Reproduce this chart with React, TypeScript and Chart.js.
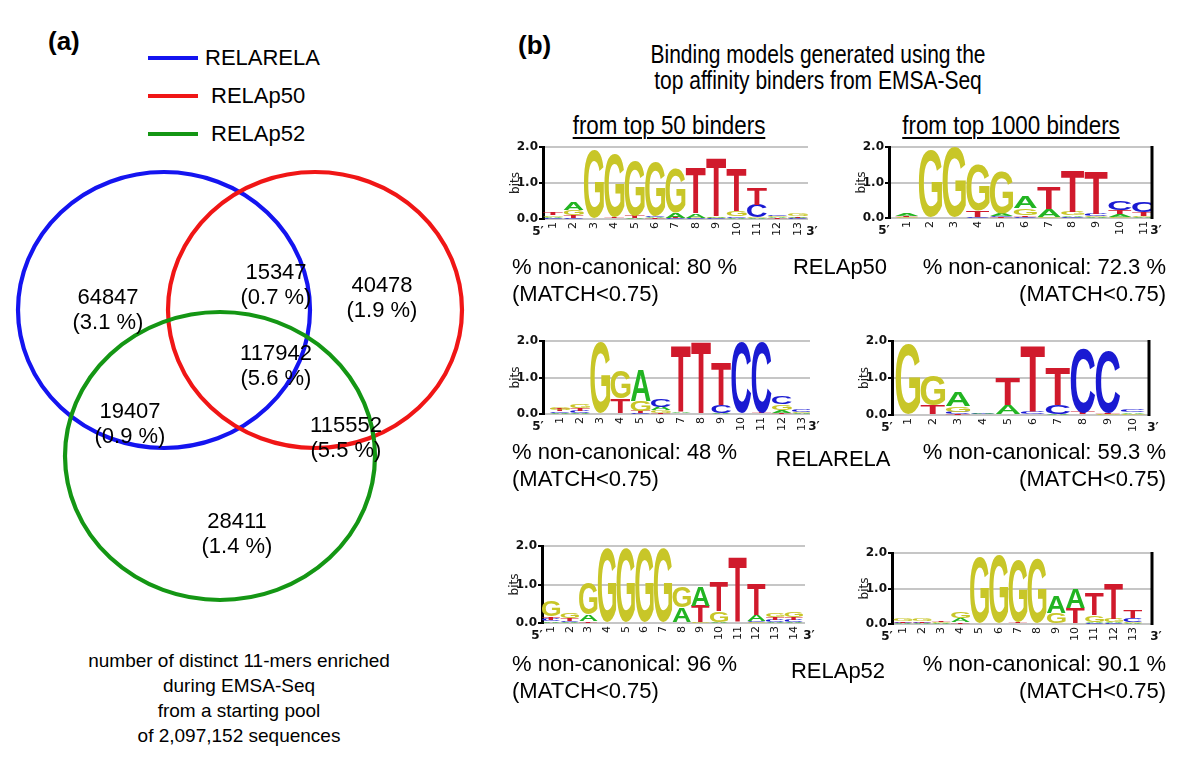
import React, { useEffect, useRef } from "react";
import { Chart, registerables } from "chart.js";

Chart.register(...registerables);

// ================= (a) Venn data =================
const vennSetNames = ["RELARELA", "RELAp50", "RELAp52"];
const vennRegionCounts = [64847, 15347, 40478, 117942, 19407, 115552, 28411];
const vennRegionPercents = ["3.1", "0.7", "1.9", "5.6", "0.9", "5.5", "1.4"];
const vennCaption = [
  "number of distinct 11-mers enriched",
  "during EMSA-Seq",
  "from a starting pool",
  "of 2,097,152 sequences",
];

// ================= (b) sequence logo data (bits per letter, per position) =================
const p50Top50A = [0.03, 0.2, 0.01, 0.01, 0.02, 0.03, 0.15, 0.12, 0.05, 0.03, 0.02, 0.03, 0.03];
const p50Top50C = [0.02, 0.03, 0.01, 0.01, 0.01, 0.04, 0.02, 0.02, 0.02, 0.04, 0.35, 0.05, 0.02];
const p50Top50G = [0.05, 0.15, 1.9, 1.75, 1.52, 1.5, 1.25, 0.02, 0.02, 0.15, 0.03, 0.03, 0.06];
const p50Top50T = [0.08, 0.07, 0.01, 0.05, 0.07, 0.02, 0.02, 1.25, 1.62, 1.2, 0.45, 0.02, 0.02];

const p50Top1000A = [0.06, 0.01, 0.01, 0.01, 0.08, 0.33, 0.22, 0.05, 0.02, 0.08, 0.02];
const p50Top1000C = [0.01, 0.01, 0.01, 0.02, 0.03, 0.03, 0.01, 0.02, 0.06, 0.25, 0.3];
const p50Top1000G = [0.02, 1.9, 1.95, 1.3, 1.2, 0.2, 0.03, 0.1, 0.04, 0.02, 0.05];
const p50Top1000T = [0.02, 0.01, 0.01, 0.18, 0.02, 0.05, 0.6, 1.15, 1.2, 0.12, 0.1];

const relaTop50A = [0.03, 0.03, 0.01, 0.01, 0.85, 0.1, 0.04, 0.01, 0.02, 0.01, 0.01, 0.08, 0.02];
const relaTop50C = [0.04, 0.06, 0.01, 0.01, 0.02, 0.2, 0.01, 0.01, 0.22, 1.95, 1.93, 0.2, 0.06];
const relaTop50G = [0.08, 0.1, 1.95, 0.76, 0.28, 0.08, 0.01, 0.01, 0.01, 0.01, 0.01, 0.15, 0.03];
const relaTop50T = [0.05, 0.08, 0.01, 0.4, 0.05, 0.02, 1.8, 1.95, 1.18, 0.01, 0.02, 0.04, 0.01];

const relaTop1000A = [0.01, 0.01, 0.38, 0.03, 0.25, 0.01, 0.02, 0.01, 0.01, 0.04];
const relaTop1000C = [0.01, 0.01, 0.06, 0.02, 0.01, 0.05, 0.25, 1.74, 1.68, 0.08];
const relaTop1000G = [1.87, 0.83, 0.15, 0.01, 0.01, 0.01, 0.01, 0.01, 0.02, 0.03];
const relaTop1000T = [0.01, 0.25, 0.03, 0.01, 0.75, 1.78, 1.0, 0.05, 0.03, 0.01];

const p52Top50A = [0.04, 0.02, 0.17, 0.01, 0.01, 0.01, 0.01, 0.38, 0.5, 0.02, 0.01, 0.15, 0.03, 0.03];
const p52Top50C = [0.05, 0.03, 0.01, 0.01, 0.01, 0.01, 0.01, 0.01, 0.01, 0.01, 0.01, 0.03, 0.05, 0.05];
const p52Top50G = [0.4, 0.12, 0.82, 1.92, 1.92, 1.92, 1.92, 0.55, 0.02, 0.28, 0.01, 0.02, 0.1, 0.12];
const p52Top50T = [0.08, 0.07, 0.04, 0.01, 0.01, 0.01, 0.01, 0.01, 0.42, 0.78, 1.7, 0.82, 0.07, 0.08];

const p52Top1000A = [0.02, 0.02, 0.02, 0.12, 0.01, 0.01, 0.01, 0.01, 0.48, 0.55, 0.03, 0.03, 0.02];
const p52Top1000C = [0.02, 0.02, 0.01, 0.01, 0.01, 0.01, 0.01, 0.01, 0.01, 0.01, 0.02, 0.02, 0.1];
const p52Top1000G = [0.06, 0.07, 0.03, 0.18, 1.85, 1.93, 1.75, 1.8, 0.3, 0.01, 0.2, 0.1, 0.04];
const p52Top1000T = [0.03, 0.04, 0.03, 0.04, 0.01, 0.01, 0.05, 0.01, 0.01, 0.42, 0.6, 1.0, 0.2];

const logoFactors = ["RELAp50", "RELARELA", "RELAp52"];
const nonCanonicalTop50 = ["80", "48", "96"];
const nonCanonicalTop1000 = ["72.3", "59.3", "90.1"];
const yTickValues = [0, 1, 2];

// ================= layout / styles (not data) =================
const SANS = "'Liberation Sans', Arial, Helvetica, sans-serif";
const AXIS_FONT = "'DejaVu Sans', 'Liberation Sans', sans-serif";
const GLYPH_FONT = "bold 100px 'Liberation Sans', Arial, sans-serif";
const LETTERS = ["A", "C", "G", "T"];
const LETTER_COLORS: Record<string, string> = {
  A: "#22b422",
  C: "#1a1ad2",
  G: "#c8c628",
  T: "#d01a2c",
};
const vennColors = ["#1414f0", "#f01616", "#149614"];
const vennShapes = [
  { cx: 164, cy: 310, rx: 146, ry: 138 },
  { cx: 315, cy: 310, rx: 147, ry: 138 },
  { cx: 220, cy: 456, rx: 155, ry: 144 },
];
const vennLabelPos = [
  [108, 297],
  [276, 272],
  [382, 285],
  [276, 353],
  [130, 411],
  [346, 425],
  [237, 521],
];
const VENN_BOX = { left: 0, top: 150, width: 480, height: 470 };

const logoPanels = [
  { A: p50Top50A, C: p50Top50C, G: p50Top50G, T: p50Top50T, l: 543, r: 808, t: 147, b: 219, min: 0.5, max: 13.5, rightBorder: false },
  { A: p50Top1000A, C: p50Top1000C, G: p50Top1000G, T: p50Top1000T, l: 889, r: 1152, t: 147, b: 218, min: 0.25, max: 11.35, rightBorder: true },
  { A: relaTop50A, C: relaTop50C, G: relaTop50G, T: relaTop50T, l: 543, r: 810, t: 341, b: 414, min: 0.16, max: 13.4, rightBorder: false },
  { A: relaTop1000A, C: relaTop1000C, G: relaTop1000G, T: relaTop1000T, l: 892, r: 1149, t: 341, b: 415, min: 0.36, max: 10.64, rightBorder: true },
  { A: p52Top50A, C: p52Top50C, G: p52Top50G, T: p52Top50T, l: 542, r: 805, t: 546, b: 623, min: 0.52, max: 14.6, rightBorder: false },
  { A: p52Top1000A, C: p52Top1000C, G: p52Top1000G, T: p52Top1000T, l: 892, r: 1152, t: 553, b: 624, min: 0.43, max: 14.0, rightBorder: true },
];
const textRowsY = [
  { y1: 267, y2: 294, nameY: 267, nameX: 840 },
  { y1: 452, y2: 479, nameY: 459, nameX: 833 },
  { y1: 664, y2: 691, nameY: 671, nameX: 838 },
];

const Y_AXIS_W = 48;
const PAD_TOP = 14;
const PAD_RIGHT = 18;
const X_AXIS_H = 42;

// ================= plugins =================
const vennPlugin = {
  id: "vennEllipses",
  afterDatasetsDraw(chart: any) {
    const { ctx } = chart;
    const xs = chart.scales.x;
    const ys = chart.scales.y;
    chart.data.datasets.forEach((ds: any) => {
      const p = ds.data[0];
      const cx = xs.getPixelForValue(p.x);
      const cy = ys.getPixelForValue(p.y);
      const rx = Math.abs(xs.getPixelForValue(p.x + ds.radiusX) - cx);
      const ry = Math.abs(ys.getPixelForValue(p.y + ds.radiusY) - cy);
      ctx.save();
      ctx.beginPath();
      ctx.ellipse(cx, cy, rx, ry, 0, 0, Math.PI * 2);
      ctx.lineWidth = 4.2;
      ctx.strokeStyle = ds.borderColor;
      ctx.stroke();
      ctx.restore();
    });
  },
};

const glyphCache: Record<string, any> = {};
function glyphBox(ctx: CanvasRenderingContext2D, L: string) {
  if (!glyphCache[L]) {
    ctx.save();
    ctx.font = GLYPH_FONT;
    ctx.textAlign = "left";
    ctx.textBaseline = "alphabetic";
    const m = ctx.measureText(L);
    glyphCache[L] = {
      l: m.actualBoundingBoxLeft,
      r: m.actualBoundingBoxRight,
      a: m.actualBoundingBoxAscent,
      d: m.actualBoundingBoxDescent,
    };
    ctx.restore();
  }
  return glyphCache[L];
}

function drawGlyph(ctx: CanvasRenderingContext2D, L: string, x: number, y: number, w: number, h: number, color: string) {
  if (h < 0.6) return;
  const g = glyphBox(ctx, L);
  const gw = g.l + g.r;
  const gh = g.a + g.d;
  ctx.save();
  ctx.font = GLYPH_FONT;
  ctx.textAlign = "left";
  ctx.textBaseline = "alphabetic";
  ctx.fillStyle = color;
  ctx.translate(x, y);
  ctx.scale(w / gw, h / gh);
  ctx.fillText(L, g.l, g.a);
  ctx.restore();
}

const logoPlugin = {
  id: "seqLogo",
  afterDatasetsDraw(chart: any) {
    const { ctx } = chart;
    const xs = chart.scales.x;
    const ys = chart.scales.y;
    const sets = chart.data.datasets;
    const n = sets[0].data.length;
    ctx.save();
    ctx.beginPath();
    ctx.rect(chart.chartArea.left, 0, chart.chartArea.right - chart.chartArea.left, chart.height);
    ctx.clip();
    for (let i = 0; i < n; i++) {
      const pos = sets[0].data[i].x;
      const stack = sets
        .map((ds: any) => ({ L: ds.label, h: ds.data[i].y, c: ds.backgroundColor }))
        .sort((a: any, b: any) => a.h - b.h);
      const xl = xs.getPixelForValue(pos - 0.49);
      const xr = xs.getPixelForValue(pos + 0.49);
      let acc = 0;
      stack.forEach((it: any) => {
        const yb = ys.getPixelForValue(acc);
        const yt = ys.getPixelForValue(acc + it.h);
        acc += it.h;
        drawGlyph(ctx, it.L, xl, yt, xr - xl, yb - yt, it.c);
      });
    }
    ctx.restore();
  },
  afterDraw(chart: any, _args: any, opts: any) {
    const { ctx, chartArea } = chart;
    const xs = chart.scales.x;
    ctx.save();
    if (opts.rightBorder) {
      ctx.strokeStyle = "#000";
      ctx.lineWidth = 3;
      ctx.beginPath();
      ctx.moveTo(chartArea.right, chartArea.top - 1);
      ctx.lineTo(chartArea.right, chartArea.bottom + 1);
      ctx.stroke();
    }
    // rotated position labels (bottom-to-top), placed by the x scale
    ctx.fillStyle = "#111";
    ctx.font = "11px " + AXIS_FONT;
    ctx.textAlign = "right";
    ctx.textBaseline = "middle";
    (xs.ticks || []).forEach((t: any) => {
      const px = xs.getPixelForValue(t.value);
      ctx.save();
      ctx.translate(px, chartArea.bottom + 3);
      ctx.rotate(-Math.PI / 2);
      ctx.fillText(String(t.value), 0, 0);
      ctx.restore();
    });
    ctx.font = "bold 12px " + AXIS_FONT;
    ctx.textAlign = "center";
    ctx.fillText("5\u2032", chartArea.left - 5, chartArea.bottom + 13);
    ctx.fillText("3\u2032", chartArea.right + 4, chartArea.bottom + 13);
    ctx.restore();
  },
};

// ================= components =================
function VennChart() {
  const ref = useRef<HTMLCanvasElement>(null);
  useEffect(() => {
    const chart = new Chart(ref.current as HTMLCanvasElement, {
      type: "scatter",
      data: {
        datasets: vennSetNames.map((name, i) => ({
          label: name,
          data: [{ x: vennShapes[i].cx, y: vennShapes[i].cy }],
          radiusX: vennShapes[i].rx,
          radiusY: vennShapes[i].ry,
          borderColor: vennColors[i],
          backgroundColor: vennColors[i],
          pointRadius: 0,
        })) as any,
      },
      options: {
        responsive: false,
        animation: false,
        events: [],
        layout: { padding: 0 },
        plugins: { legend: { display: false }, tooltip: { enabled: false } },
        scales: {
          x: { type: "linear", display: false, min: VENN_BOX.left, max: VENN_BOX.left + VENN_BOX.width },
          y: { type: "linear", display: false, reverse: true, min: VENN_BOX.top, max: VENN_BOX.top + VENN_BOX.height },
        },
      },
      plugins: [vennPlugin],
    });
    return () => chart.destroy();
  }, []);
  return (
    <canvas
      ref={ref}
      width={VENN_BOX.width}
      height={VENN_BOX.height}
      style={{ position: "absolute", left: VENN_BOX.left, top: VENN_BOX.top, width: VENN_BOX.width, height: VENN_BOX.height }}
    />
  );
}

function LogoChart({ panel }: { panel: any }) {
  const ref = useRef<HTMLCanvasElement>(null);
  const W = panel.r - panel.l + Y_AXIS_W + PAD_RIGHT;
  const H = panel.b - panel.t + PAD_TOP + X_AXIS_H;
  useEffect(() => {
    const positions = panel.A.map((_: number, i: number) => i + 1);
    const chart = new Chart(ref.current as HTMLCanvasElement, {
      type: "scatter",
      data: {
        datasets: LETTERS.map((L) => ({
          label: L,
          data: positions.map((p: number, i: number) => ({ x: p, y: panel[L][i] })),
          backgroundColor: LETTER_COLORS[L],
          borderColor: LETTER_COLORS[L],
          pointRadius: 0,
          showLine: false,
        })) as any,
      },
      options: {
        responsive: false,
        animation: false,
        events: [],
        layout: { padding: { top: PAD_TOP, right: PAD_RIGHT, left: 0, bottom: 0 } },
        plugins: {
          legend: { display: false },
          tooltip: { enabled: false },
          seqLogo: { rightBorder: panel.rightBorder },
        } as any,
        scales: {
          x: {
            type: "linear",
            min: panel.min,
            max: panel.max,
            grid: { display: false, drawTicks: false },
            border: { display: false },
            afterBuildTicks: (s: any) => {
              s.ticks = positions.map((p: number) => ({ value: p }));
            },
            afterFit: (s: any) => {
              s.height = X_AXIS_H;
            },
            ticks: { display: false, autoSkip: false },
          },
          y: {
            type: "linear",
            min: 0,
            max: 2,
            afterBuildTicks: (s: any) => {
              s.ticks = yTickValues.map((v) => ({ value: v }));
            },
            afterFit: (s: any) => {
              s.width = Y_AXIS_W;
            },
            grid: {
              color: "#c6c6c6",
              lineWidth: 2,
              drawTicks: true,
              tickLength: 4,
              tickColor: "#000",
              tickWidth: 2,
            },
            border: { display: true, color: "#000", width: 3 },
            ticks: {
              padding: 1,
              color: "#111",
              font: { family: AXIS_FONT, size: 12, weight: "bold" },
              callback: (v: any) => Number(v).toFixed(1),
            },
            title: {
              display: true,
              text: "bits",
              color: "#222",
              padding: { top: 14, bottom: 0 },
              font: { family: AXIS_FONT, size: 12 },
            },
          },
        },
      } as any,
      plugins: [logoPlugin],
    });
    return () => chart.destroy();
  }, []);
  return (
    <canvas
      ref={ref}
      width={W}
      height={H}
      style={{ position: "absolute", left: panel.l - Y_AXIS_W, top: panel.t - PAD_TOP, width: W, height: H }}
    />
  );
}

function Label(props: any) {
  const { x, y, text, size = 22, align = "left", family = SANS, weight = 400, underline = false, sx = 1 } = props;
  const tx = align === "center" ? "-50%" : align === "right" ? "-100%" : "0";
  return (
    <div
      style={{
        position: "absolute",
        left: x,
        top: y,
        transform: `translate(${tx}, -50%)` + (sx !== 1 ? ` scaleX(${sx})` : ""),
        fontSize: size,
        fontFamily: family,
        fontWeight: weight,
        lineHeight: 1,
        whiteSpace: "nowrap",
        color: "#000",
        textDecoration: underline ? "underline" : "none",
        textDecorationThickness: underline ? "1.5px" : undefined,
        textUnderlineOffset: underline ? "3px" : undefined,
      }}
    >
      {text}
    </div>
  );
}

export default function App() {
  const legendY = [58, 96, 134];
  const legendTextX = [205, 211, 211];
  return (
    <div
      style={{
        position: "absolute",
        left: 0,
        top: 0,
        width: 1200,
        height: 764,
        background: "#fff",
        overflow: "hidden",
      }}
    >
      {/* ---------- (a) ---------- */}
      <Label x={48} y={41} text="(a)" size={26} weight={700} />
      {vennSetNames.map((name, i) => (
        <React.Fragment key={name}>
          <div
            style={{
              position: "absolute",
              left: 148,
              top: legendY[i] - 2,
              width: 50,
              height: 4,
              background: vennColors[i],
            }}
          />
          <Label x={legendTextX[i]} y={legendY[i]} text={name} size={22} />
        </React.Fragment>
      ))}
      <VennChart />
      {vennRegionCounts.map((c, i) => (
        <React.Fragment key={"r" + i}>
          <Label x={vennLabelPos[i][0]} y={vennLabelPos[i][1]} text={String(c)} size={22} align="center" />
          <Label x={vennLabelPos[i][0]} y={vennLabelPos[i][1] + 25} text={`(${vennRegionPercents[i]} %)`} size={22} align="center" />
        </React.Fragment>
      ))}
      {vennCaption.map((line, i) => (
        <Label key={"c" + i} x={239} y={660 + i * 25} text={line} size={19} align="center" />
      ))}

      {/* ---------- (b) ---------- */}
      <Label x={518} y={45} text="(b)" size={26} weight={700} />
      <Label x={818} y={54} text="Binding models generated using the" size={25} align="center" sx={0.84} />
      <Label x={818} y={80} text="top affinity binders from EMSA-Seq" size={25} align="center" sx={0.84} />
      <Label x={669} y={125} text="from top 50 binders" size={26} align="center" underline sx={0.86} />
      <Label x={1011} y={125} text="from top 1000 binders" size={26} align="center" underline sx={0.86} />

      {logoPanels.map((p, i) => (
        <LogoChart key={"logo" + i} panel={p} />
      ))}

      {logoFactors.map((f, i) => (
        <React.Fragment key={"t" + i}>
          <Label x={512} y={textRowsY[i].y1} text={`% non-canonical: ${nonCanonicalTop50[i]} %`} size={22} />
          <Label x={512} y={textRowsY[i].y2} text="(MATCH<0.75)" size={22} />
          <Label x={textRowsY[i].nameX} y={textRowsY[i].nameY} text={f} size={22} align="center" />
          <Label x={1166} y={textRowsY[i].y1} text={`% non-canonical: ${nonCanonicalTop1000[i]} %`} size={22} align="right" />
          <Label x={1166} y={textRowsY[i].y2} text="(MATCH<0.75)" size={22} align="right" />
        </React.Fragment>
      ))}
    </div>
  );
}
